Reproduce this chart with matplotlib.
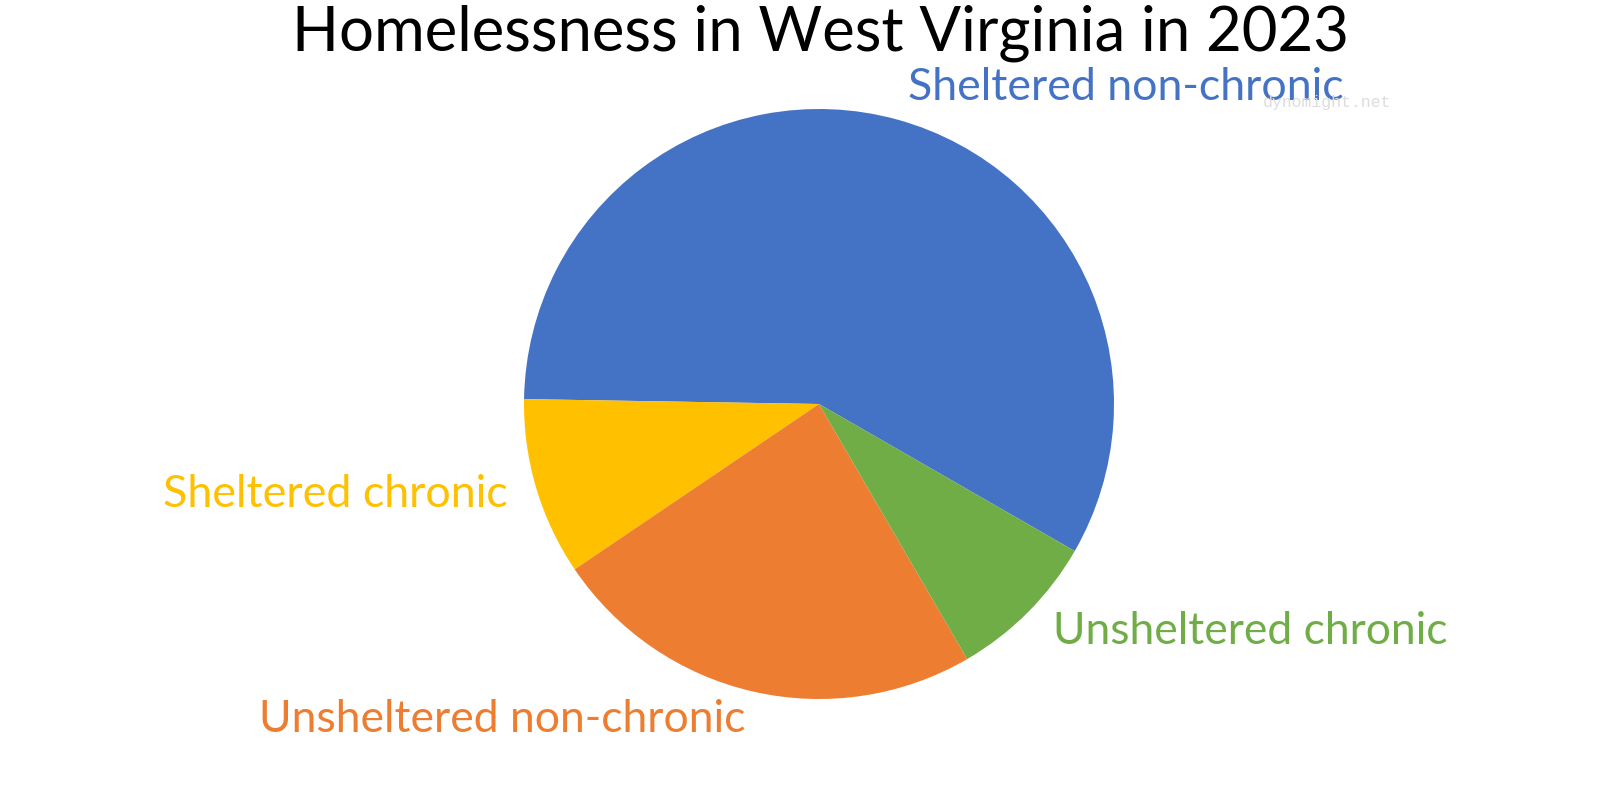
import matplotlib
matplotlib.use("Agg")
import matplotlib.pyplot as plt

# ---- data ----
categories = ["Sheltered non-chronic", "Sheltered chronic",
              "Unsheltered non-chronic", "Unsheltered chronic"]
counts = [942, 158, 388, 135]
colors = ["#4472C4", "#FFC000", "#ED7D31", "#70AD47"]
title = "Homelessness in West Virginia in 2023"
watermark = "dynomight.net"

W, H = 1600, 800
fig = plt.figure(figsize=(16, 8), dpi=100)
ax = fig.add_axes([0, 0, 1, 1])

cx, cy, r = 819, H - 404, 295
ax.pie(counts, colors=colors, startangle=-29.9, counterclock=True,
       center=(cx, cy), radius=r, wedgeprops=dict(linewidth=0))
ax.set_xlim(0, W)
ax.set_ylim(0, H)
ax.set_aspect("equal")
ax.axis("off")

renderer = fig.canvas.get_renderer()


def fit_text(s, left, right, baseline, color, family="Lato", size0=30):
    t = ax.text(left, H - baseline, s, ha="left", va="baseline",
                color=color, fontsize=size0, family=family)
    w = t.get_window_extent(renderer).width
    t.set_fontsize(size0 * (right - left) / w)
    return t


fit_text(title, 292, 1352, 51, "black", size0=41)
label_boxes = [
    (908, 1343, 100),   # Sheltered non-chronic
    (163, 507, 507),    # Sheltered chronic
    (259, 745, 732),    # Unsheltered non-chronic
    (1053, 1447, 644),  # Unsheltered chronic
]
for name, col, (l, rr, b) in zip(categories, colors, label_boxes):
    fit_text(name, l, rr, b, col, size0=30)

fit_text(watermark, 1263, 1392, 107, "#dddddd", family="Liberation Mono", size0=12)

fig.savefig("out.png", dpi=100, facecolor="white")
